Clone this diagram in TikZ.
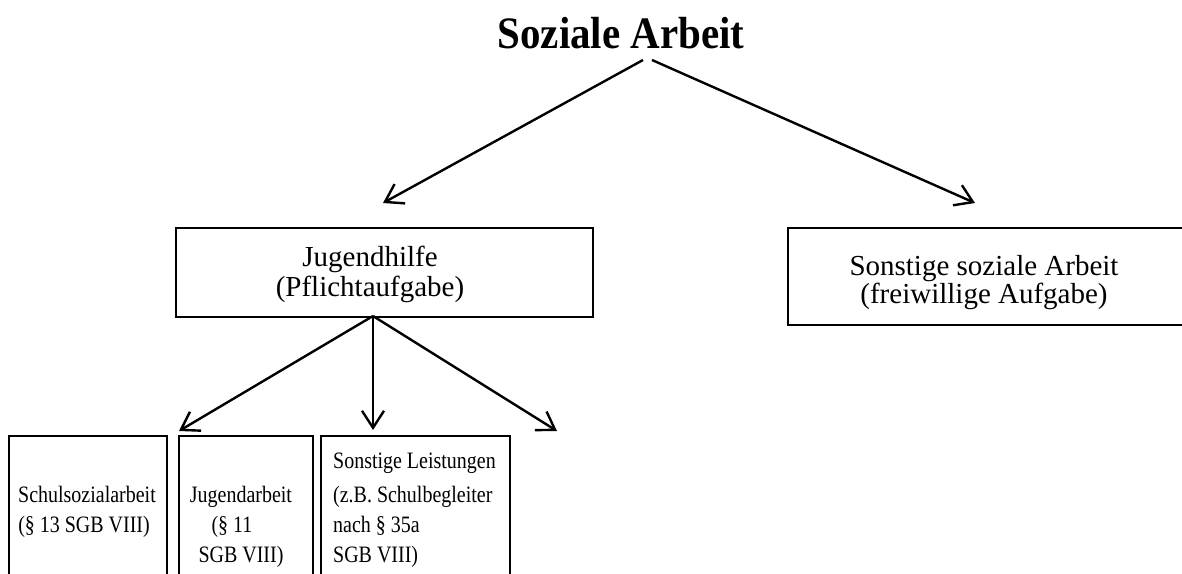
\documentclass[tikz,border=0pt]{standalone}
\usepackage{fontspec}
\setmainfont{Liberation Serif}
\newfontfamily\titlefont[FakeStretch=0.91]{Liberation Serif}
\newfontfamily\smallfont[FakeStretch=0.85]{Liberation Serif}
\usetikzlibrary{arrows.meta}
\begin{document}
\begin{tikzpicture}[x=1pt,y=-1pt,
  box/.style={draw,line width=2.4pt,inner sep=0pt,anchor=north west},
  conn/.style={line width=2.4pt,-{Straight Barb[length=17pt,width=22pt,line width=2.4pt]}},
  toptext/.style={font=\fontsize{29}{30}\selectfont,inner sep=0pt,anchor=base},
  smalltext/.style={font=\smallfont\fontsize{23.5}{30}\selectfont,inner sep=0pt,anchor=base west}]
\useasboundingbox (0,0) rectangle (1182,573);
\begin{scope}
\clip (0,0) rectangle (1182,573);
% title
\node[font=\titlefont\bfseries\fontsize{45}{50}\selectfont,inner sep=0pt,anchor=base] (title) at (621,48) {Soziale Arbeit};
\coordinate (tl) at (643,60);
\coordinate (tr) at (652,60);
% level 2
\node[box,minimum width=417pt,minimum height=89pt] (jh) at (175,227) {};
\node[toptext] (jht1) at (370,266) {Jugendhilfe};
\node[toptext] (jht2) at (370,296) {(Pflichtaufgabe)};
\node[box,minimum width=400pt,minimum height=97pt] (ss) at (787,227) {};
\node[toptext] (sst1) at (984,275) {Sonstige soziale Arbeit};
\node[toptext] (sst2) at (984,303) {(freiwillige Aufgabe)};
% level 3
\node[box,minimum width=158pt,minimum height=160pt] (b1) at (8,435) {};
\node[box,minimum width=134pt,minimum height=160pt] (b2) at (178,435) {};
\node[box,minimum width=189pt,minimum height=160pt] (b3) at (320,435) {};
\node[smalltext,anchor=base] (b1a) at (87,502) {Schulsozialarbeit};
\node[smalltext,anchor=base] (b1b) at (84,532) {(§ 13 SGB VIII)};
\node[smalltext,anchor=base] (b2a) at (241,502) {Jugendarbeit};
\node[smalltext,anchor=base] (b2b) at (232,532) {(§ 11};
\node[smalltext,anchor=base] (b2c) at (241,562) {SGB VIII)};
\node[smalltext] (b3a) at (333,468) {Sonstige Leistungen};
\node[smalltext] (b3b) at (333,502) {(z.B. Schulbegleiter};
\node[smalltext] (b3c) at (333,532) {nach § 35a};
\node[smalltext] (b3d) at (333,562) {SGB VIII)};
% connectors
\coordinate (jhs) at (373,316);
\coordinate (t1) at (383,203);
\coordinate (t2) at (975,203);
\coordinate (t3) at (179,431);
\coordinate (t4) at (373,430);
\coordinate (t5) at (557,431);
\draw[conn] (tl) -- (t1);
\draw[conn] (tr) -- (t2);
\draw[conn] (jhs) -- (t3);
\draw[conn] (jhs) -- (t4);
\draw[conn] (jhs) -- (t5);
\end{scope}
\end{tikzpicture}
\end{document}
